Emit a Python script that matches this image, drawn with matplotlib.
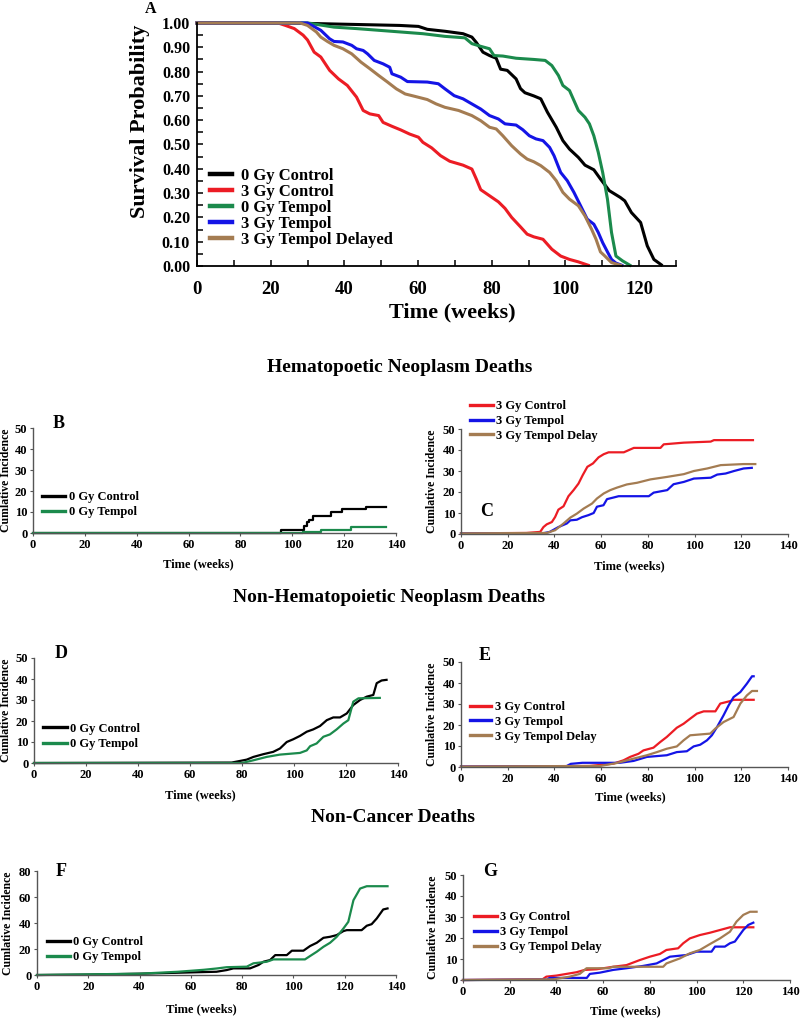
import matplotlib
matplotlib.use('Agg')
import matplotlib.pyplot as plt
from matplotlib.ticker import MultipleLocator, FormatStrFormatter

plt.rcParams['font.family'] = ['Liberation Serif', 'DejaVu Serif']
plt.rcParams['font.weight'] = 'bold'
plt.rcParams['axes.labelweight'] = 'bold'

# ---------------- data ----------------
# Panel A: survival probability
a_ctrl0_t = [0, 25, 40, 55, 60.1, 62.5, 67.3, 72.2, 74.6, 75.8, 77.6, 79.4, 81.2, 82.4, 84.2, 86.6, 87.8, 89, 91.4, 93.3, 95.1, 97.5, 99.3, 101.1, 103.5, 105.3, 107.7, 109.5, 111.9, 114.9, 116.1, 117.9, 120.4, 122.2, 124, 126]
a_ctrl0_s = [1.0, 1.0, 0.995, 0.99, 0.986, 0.974, 0.966, 0.956, 0.942, 0.92, 0.88, 0.866, 0.855, 0.81, 0.805, 0.77, 0.73, 0.713, 0.70, 0.688, 0.633, 0.571, 0.516, 0.481, 0.447, 0.415, 0.396, 0.358, 0.31, 0.282, 0.268, 0.22, 0.179, 0.083, 0.027, 0.005]
a_ctrl3_t = [0, 22, 24, 26.4, 28.8, 30, 31.8, 33.6, 36, 38.4, 40.8, 43.3, 45.1, 46.9, 49.3, 50.5, 52.9, 55.3, 57.7, 60.1, 61.3, 63.7, 66.1, 68.6, 72.2, 74.6, 75.8, 77, 79.4, 81.8, 83.6, 85.4, 87.8, 89.6, 91.4, 93.9, 96.3, 98.7, 101.1, 103.5, 106.2]
a_ctrl3_s = [1, 1, 0.99, 0.977, 0.95, 0.93, 0.88, 0.86, 0.805, 0.77, 0.743, 0.695, 0.64, 0.626, 0.619, 0.591, 0.575, 0.56, 0.543, 0.53, 0.509, 0.486, 0.454, 0.431, 0.415, 0.399, 0.358, 0.314, 0.289, 0.264, 0.237, 0.2, 0.161, 0.131, 0.12, 0.11, 0.069, 0.041, 0.027, 0.017, 0.003]
a_temp0_t = [0, 30, 37.2, 43.3, 49.3, 55.3, 61.3, 67.3, 72.7, 74.6, 77, 79.4, 80.6, 83, 86.6, 91.4, 94.5, 96.3, 98.1, 99.3, 101.1, 102.3, 103.5, 105.3, 106.5, 107.7, 108.9, 110.1, 111.4, 112.5, 113.7, 115.5, 117.5]
a_temp0_s = [1, 1, 0.983, 0.977, 0.97, 0.963, 0.956, 0.945, 0.939, 0.915, 0.904, 0.894, 0.866, 0.864, 0.855, 0.85, 0.846, 0.825, 0.784, 0.743, 0.722, 0.681, 0.64, 0.612, 0.585, 0.536, 0.468, 0.385, 0.275, 0.138, 0.041, 0.021, 0.003]
a_temp3_t = [0, 30, 31.2, 33.6, 36, 37.2, 39.6, 42, 43.3, 45.1, 46.3, 48.1, 50.5, 52.3, 52.9, 55.3, 57.1, 62.5, 65.5, 67.3, 69.8, 72.2, 74.6, 77, 79.4, 81.8, 83.6, 86.6, 88.4, 90.2, 92, 93.9, 95.7, 96.9, 98.7, 100.5, 102.3, 104.1, 105.9, 107.7, 108.9, 110.1, 111.4, 112.5, 113.7, 115.3]
a_temp3_s = [1, 1, 0.99, 0.97, 0.935, 0.924, 0.922, 0.908, 0.894, 0.887, 0.873, 0.846, 0.832, 0.818, 0.791, 0.777, 0.759, 0.757, 0.75, 0.729, 0.701, 0.688, 0.667, 0.646, 0.619, 0.605, 0.585, 0.58, 0.561, 0.536, 0.523, 0.516, 0.488, 0.454, 0.385, 0.351, 0.303, 0.248, 0.193, 0.172, 0.138, 0.096, 0.058, 0.027, 0.012, 0.003]
a_delay_t = [0, 28, 30, 32.4, 33.6, 35.4, 37.2, 39.6, 42, 44.5, 46.9, 49.3, 51.7, 54.1, 56.5, 58.9, 62.5, 64.9, 67.3, 71, 74.6, 77, 79.4, 81.2, 83, 85.4, 87.8, 89.6, 91.4, 93.3, 95.7, 97.5, 99.3, 101.1, 103.5, 105.3, 107.1, 108.3, 109.5, 110.7, 112.5, 115]
a_delay_s = [1, 1, 0.99, 0.963, 0.942, 0.924, 0.908, 0.894, 0.873, 0.839, 0.812, 0.784, 0.757, 0.729, 0.708, 0.699, 0.685, 0.667, 0.653, 0.64, 0.619, 0.598, 0.571, 0.564, 0.536, 0.495, 0.461, 0.44, 0.429, 0.413, 0.385, 0.351, 0.303, 0.275, 0.248, 0.206, 0.151, 0.11, 0.058, 0.041, 0.014, 0.003]
a_labels = ['0 Gy Control', '3 Gy Control', '0 Gy Tempol', '3 Gy Tempol', '3 Gy Tempol Delayed']

# Panel B: hematopoietic neoplasm deaths, 0 Gy (step events)
b_ctrl0_t = [0, 95.5, 104.5, 105.5, 106.5, 108, 110, 115, 119, 128.5, 136]
b_ctrl0_y = [0, 1.3, 3.2, 5.2, 6.3, 8, 8, 10, 11.2, 12.2, 12.2]
b_temp0_t = [0, 104, 111, 122.5, 136]
b_temp0_y = [0, 0.4, 1.5, 2.7, 2.7]

# Panel C: hematopoietic neoplasm deaths, 3 Gy
c_ctrl3_t = [0, 28, 33.9, 35.3, 36.7, 38.9, 40.3, 41.7, 43.9, 46, 48.2, 50.3, 52.1, 54.1, 56.5, 58.9, 61.1, 63.2, 69.7, 74, 85.4, 86.8, 95.4, 106.9, 108.3, 125]
c_ctrl3_y = [0.3, 0.5, 1, 3.3, 4.6, 5.7, 8.1, 11.6, 13.2, 18, 20.9, 24, 28, 32, 33.6, 36.5, 38, 38.9, 38.9, 41, 41, 42.7, 43.5, 44, 44.7, 44.7]
c_temp3_t = [0, 35, 38, 41.7, 45.3, 46.8, 49.6, 51.8, 54.6, 56.8, 58.2, 61, 62.5, 65.4, 67.5, 80.4, 82.5, 88.3, 91, 95.4, 99.7, 106.9, 109.7, 113.3, 116.9, 121, 124.5]
c_temp3_y = [0.3, 0.3, 1, 3.3, 5, 6.5, 6.8, 8, 9, 10, 13, 13.7, 16.6, 17.4, 18, 18, 19.7, 20.9, 23.7, 24.8, 26.4, 26.8, 28.3, 28.8, 30, 31.2, 31.5]
c_delay_t = [0, 36.7, 40.3, 43.9, 46.8, 49.6, 52.5, 56.1, 58.2, 61.1, 63.9, 66.8, 71, 75.4, 81.1, 88.3, 95.4, 99.7, 105.4, 111.2, 121, 126]
c_delay_y = [0.3, 0.5, 1.8, 5, 7.8, 9.7, 12.1, 14.5, 16.9, 19.3, 20.9, 22.1, 23.6, 24.4, 26, 27.2, 28.5, 30, 31.2, 32.8, 33.3, 33.3]

# Panel D: non-hematopoietic neoplasm deaths, 0 Gy
d_ctrl0_t = [0, 76, 81.8, 84.4, 88.2, 92, 94.6, 97.2, 99.7, 102.3, 104.9, 107.4, 110, 112.6, 115.1, 117.7, 120.3, 122.8, 125.4, 128, 130.5, 131.8, 133.7, 135.6]
d_ctrl0_y = [0, 0.2, 1.6, 2.9, 4.2, 5.3, 6.9, 10, 11.3, 12.9, 14.9, 16, 17.6, 20.4, 21.7, 21.7, 23.6, 27.6, 30, 31.6, 32.4, 38, 39.3, 39.6]
d_temp0_t = [0, 80, 84.4, 89.5, 94.6, 102.3, 104.9, 106.2, 108.7, 111.3, 113.8, 116.4, 119, 120.9, 122.8, 124.8, 133]
d_temp0_y = [0, 0, 1.3, 2.9, 4, 4.8, 6, 8, 9.3, 12.5, 13.6, 16, 18.8, 20.4, 29.2, 30.8, 31]

# Panel E: non-hematopoietic neoplasm deaths, 3 Gy
e_ctrl3_t = [0, 55, 65.3, 69.6, 72.4, 76, 78.1, 82.4, 85.3, 88.1, 92.4, 95.3, 98.1, 101, 103.9, 108.9, 111, 115.3, 116.7, 125.3]
e_ctrl3_y = [0.2, 0.5, 1.6, 3.2, 4.8, 6.3, 7.9, 9.2, 11.9, 14.3, 18.7, 20.6, 23, 25.4, 26.5, 26.5, 30.2, 31.4, 32, 32]
e_temp3_t = [0, 45, 47, 52, 68, 73.9, 79.6, 88.1, 92.4, 96.7, 99.6, 102.4, 105.3, 107.4, 109.6, 112.4, 114.6, 116.7, 119.6, 122.4, 124.6, 125.3]
e_temp3_y = [0.2, 0.3, 1.5, 2.0, 2.0, 2.9, 4.8, 5.6, 7.1, 7.5, 9.8, 10.6, 12.7, 15.1, 19, 24.6, 29.4, 33.3, 35.7, 39.7, 43.2, 43.2]
e_delay_t = [0, 59.6, 66.7, 73.9, 79.6, 83.9, 88.1, 92.4, 95.3, 98.1, 106.7, 108.9, 112.4, 116.7, 119.6, 122.4, 124.6, 126.7]
e_delay_y = [0.2, 0.5, 1.9, 4, 5.6, 7.1, 8.7, 9.8, 12.7, 15.1, 15.9, 18.3, 21.4, 23.8, 30.2, 34.1, 36.2, 36.2]

# Panel F: non-cancer deaths, 0 Gy
f_ctrl0_t = [0, 20, 40, 60, 70, 74, 76.6, 83.1, 86.4, 88.3, 90.9, 92.9, 97.4, 99.4, 103.9, 106.5, 109.1, 111.7, 114.3, 116.9, 119.5, 120.8, 126.6, 128.6, 130.5, 132.5, 135, 136.7]
f_ctrl0_y = [0, 0.3, 1, 2, 2.5, 3.8, 5.1, 5.1, 7.7, 10.2, 11.5, 15.3, 15.3, 18.7, 18.7, 22.3, 24.8, 28.6, 29.4, 30.7, 33.8, 34.5, 34.5, 37.9, 39.1, 43.5, 50.4, 51.2]
f_temp0_t = [0, 20, 40, 55, 65, 70, 74, 81.8, 84.4, 89.6, 92.2, 104.5, 106.5, 109.1, 111.7, 114.3, 116.9, 119.5, 121.4, 123.4, 126, 128.6, 136.7]
f_temp0_y = [0, 0.5, 1, 2.5, 4, 5, 6, 6.4, 9, 10.2, 12, 12, 14.6, 17.9, 21.7, 24.8, 29.4, 35.8, 40.9, 57.5, 66.5, 68.3, 68.3]

# Panel G: non-cancer deaths, 3 Gy
g_ctrl3_t = [0, 34, 35.7, 40, 44.3, 48.6, 52.1, 57.1, 64.3, 70, 75.7, 80, 84.3, 87.1, 92.1, 94.3, 97.1, 101.4, 105.7, 110, 114.3, 124.3]
g_ctrl3_y = [0, 0.3, 1.6, 2.1, 2.9, 3.7, 4.8, 5.1, 6.3, 7.1, 9.5, 11.1, 12.4, 14.3, 15.1, 17.5, 19.8, 21.4, 22.5, 23.8, 25.1, 25.1]
g_temp3_t = [0, 36, 37.1, 53, 54.3, 58.6, 64.3, 70, 77.1, 82.9, 88.6, 95.7, 100, 106.4, 107.9, 112.1, 114.3, 116.4, 117.9, 120, 122.1, 124.3]
g_temp3_y = [0, 0.2, 1.0, 1.0, 2.9, 3.5, 4.8, 5.6, 6.7, 7.9, 11.1, 11.9, 13.5, 13.5, 15.9, 15.9, 17.5, 18.3, 20.6, 23.8, 26.2, 27.3]
g_delay_t = [0, 38.6, 41.4, 45.7, 50, 52.9, 62.1, 64.3, 85.7, 87.1, 92.9, 97.1, 101.4, 105.7, 110, 114.3, 117.1, 120, 122.9, 125.7]
g_delay_y = [0, 0.3, 0.8, 1.6, 2.9, 5.6, 5.6, 6.3, 6.3, 7.9, 10.3, 12.7, 14.3, 17.1, 19.8, 23, 27.8, 31, 32.5, 32.5]

lbl_0 = ['0 Gy Control', '0 Gy Tempol']
lbl_3 = ['3 Gy Control', '3 Gy Tempol', '3 Gy Tempol Delay']
section_titles = ['Hematopoetic Neoplasm Deaths', 'Non-Hematopoietic Neoplasm Deaths', 'Non-Cancer Deaths']

BLACK = '#000000'
RED = '#ec1c24'
GREEN = '#1b8a4c'
BLUE = '#1414e6'
BROWN = '#a47c52'

# ---------------- layout helpers ----------------
W, H = 800, 1019
fig = plt.figure(figsize=(W / 100, H / 100), dpi=100)


def rect(x0, x1, ytop, ybot):
    return [x0 / W, 1 - ybot / H, (x1 - x0) / W, (ybot - ytop) / H]


def ftext(x, y, s, **kw):
    fig.text(x / W, 1 - y / H, s, **kw)


# ---------------- Panel A ----------------
axA = fig.add_axes(rect(197, 676, 23, 266))
for t, s, c in [(a_ctrl0_t, a_ctrl0_s, BLACK), (a_ctrl3_t, a_ctrl3_s, RED),
                (a_temp0_t, a_temp0_s, GREEN), (a_temp3_t, a_temp3_s, BLUE),
                (a_delay_t, a_delay_s, BROWN)]:
    axA.plot(t, s, color=c, lw=2.2, clip_on=False, solid_joinstyle='round')
axA.set_xlim(0, 130)
axA.set_ylim(0, 1.0)
for sp in ['top', 'right']:
    axA.spines[sp].set_visible(False)
for sp in ['left', 'bottom']:
    axA.spines[sp].set_linewidth(1.3)
axA.xaxis.set_major_locator(MultipleLocator(20))
axA.xaxis.set_minor_locator(MultipleLocator(10))
axA.yaxis.set_major_locator(MultipleLocator(0.1))
axA.yaxis.set_minor_locator(MultipleLocator(0.05))
axA.yaxis.set_major_formatter(FormatStrFormatter('%.2f'))
axA.tick_params(axis='both', which='both', direction='in')
axA.tick_params(axis='both', which='major', length=4, width=1.1)
axA.tick_params(axis='both', which='minor', length=4, width=1.1)
axA.tick_params(axis='x', labelsize=13.5, pad=11)
axA.tick_params(axis='y', labelsize=11.5, pad=5)
for lab in axA.get_xticklabels() + axA.get_yticklabels():
    lab.set_fontweight('bold')
legA = axA.legend(a_labels, loc='upper left', bbox_to_anchor=(210 / W, 1 - 168 / H),
                  bbox_transform=fig.transFigure, frameon=False, fontsize=12,
                  handlelength=1.3, handletextpad=0.55, labelspacing=0.0,
                  borderpad=0, borderaxespad=0)
for ln in legA.get_lines():
    ln.set_linewidth(3.2)
ftext(140, 121, 'Survival Probability', rotation=90, ha='center', va='center',
      fontsize=16, fontweight='bold')
ftext(452, 312, 'Time (weeks)', ha='center', va='center', fontsize=16, fontweight='bold')
ftext(151, 9, 'A', ha='center', va='center', fontsize=11.5, fontweight='bold')


# ---------------- Lower panels ----------------
def panel(box, ymax, ystep, series, labels, leg_anchor, leg_pitch, hl_px, gap_px,
          letter, letter_xy, ylab_x, xlab_xy, step=False):
    ax = fig.add_axes(rect(*box))
    for t, y, c in series:
        ax.plot(t, y, color=c, lw=1.6, drawstyle='steps-post' if step else 'default',
                clip_on=False)
    ax.set_xlim(0, 140)
    ax.set_ylim(0, ymax)
    ax.xaxis.set_major_locator(MultipleLocator(20))
    ax.yaxis.set_major_locator(MultipleLocator(ystep))
    for sp in ['top', 'right']:
        ax.spines[sp].set_visible(False)
    for sp in ['left', 'bottom']:
        ax.spines[sp].set_color('#555555')
        ax.spines[sp].set_linewidth(1.0)
    ax.tick_params(axis='both', direction='out', length=2.5, width=0.8, color='#555555',
                   labelsize=9)
    ax.tick_params(axis='x', pad=1.5)
    ax.tick_params(axis='y', pad=1.5)
    for lab in ax.get_xticklabels() + ax.get_yticklabels():
        lab.set_fontweight('bold')
    fs = 9
    hl = hl_px * 0.72 / fs
    tp = gap_px * 0.72 / fs
    ls = (leg_pitch * 0.72 - fs * 1.15) / fs
    leg = ax.legend(labels, loc='upper left',
                    bbox_to_anchor=(leg_anchor[0] / W, 1 - (leg_anchor[1] - 8) / H),
                    bbox_transform=fig.transFigure, frameon=False, fontsize=fs,
                    handlelength=hl, handletextpad=tp, labelspacing=ls,
                    borderpad=0, borderaxespad=0)
    for ln in leg.get_lines():
        ln.set_linewidth(2.4)
    ftext(letter_xy[0], letter_xy[1], letter, ha='center', va='center', fontsize=13,
          fontweight='bold')
    ftext(ylab_x, (box[2] + box[3]) / 2, 'Cumlative Incidence', rotation=90,
          ha='center', va='center', fontsize=8.5, fontweight='bold')
    ftext(xlab_xy[0], xlab_xy[1], 'Time (weeks)', ha='center', va='center', fontsize=9,
          fontweight='bold')
    return ax


panel((33, 396, 428, 533), 50, 10,
      [(b_ctrl0_t, b_ctrl0_y, BLACK), (b_temp0_t, b_temp0_y, GREEN)], lbl_0,
      (42, 499), 17.7, 23, 4, 'B', (59, 423), 6, (198, 564), step=True)
panel((461, 788, 429, 534), 50, 10,
      [(c_ctrl3_t, c_ctrl3_y, RED), (c_temp3_t, c_temp3_y, BLUE), (c_delay_t, c_delay_y, BROWN)],
      lbl_3, (470, 408), 17.3, 23, 3, 'C', (487, 512), 432, (629, 566))
panel((34, 398, 658, 763), 50, 10,
      [(d_ctrl0_t, d_ctrl0_y, BLACK), (d_temp0_t, d_temp0_y, GREEN)], lbl_0,
      (43, 730.7), 17.6, 24, 3, 'D', (61, 654), 6, (200, 795))
panel((461, 788, 662, 767), 50, 10,
      [(e_ctrl3_t, e_ctrl3_y, RED), (e_temp3_t, e_temp3_y, BLUE), (e_delay_t, e_delay_y, BROWN)],
      lbl_3, (470, 709), 17.2, 21, 4, 'E', (485, 655), 432, (630, 797))
panel((37, 396, 871, 975), 80, 20,
      [(f_ctrl0_t, f_ctrl0_y, BLACK), (f_temp0_t, f_temp0_y, GREEN)], lbl_0,
      (47, 944), 17.7, 23, 3, 'F', (61, 872), 8, (201, 1009))
panel((463, 790, 875, 980), 50, 10,
      [(g_ctrl3_t, g_ctrl3_y, RED), (g_temp3_t, g_temp3_y, BLUE), (g_delay_t, g_delay_y, BROWN)],
      lbl_3, (474, 919), 17.5, 23, 3, 'G', (490, 872), 433, (625, 1011))

# section titles
ftext(400, 368, section_titles[0], ha='center', va='center', fontsize=14, fontweight='bold')
ftext(389, 597, section_titles[1], ha='center', va='center', fontsize=14, fontweight='bold')
ftext(393, 818, section_titles[2], ha='center', va='center', fontsize=14, fontweight='bold')

fig.savefig('out.png', dpi=100)
